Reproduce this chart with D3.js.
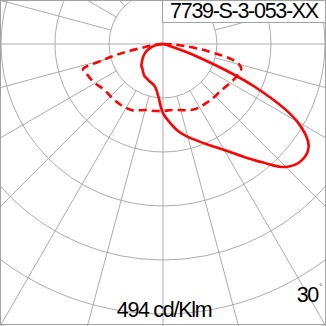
<!DOCTYPE html>
<html>
<head>
<meta charset="utf-8">
<script src="https://cdn.jsdelivr.net/npm/d3@7"></script>
<style>
  body { margin: 0; background: #fff; }
  text { font-family: "Liberation Sans", Arial, sans-serif; }
</style>
</head>
<body>
<div id="chart-wrapper"></div>
<script>
//////////////////////////////////////////////////
/////////////////// Constants ////////////////////
//////////////////////////////////////////////////

const width = 326;
const height = 326;
const center = {x: 163, y: 44};
const gridColour = "#a3a3a3"
const curveColour = "#ff0000"

// title / labels
const title = "7739-S-3-053-XX"
const unitLabel = "494 cd/Klm"
const angleLabel = "30"

// rings every 150 cd/klm, spokes every 15 deg
const ringValues = [150, 300, 450, 600, 750, 900, 1050]
const spokeAngles = d3.range(0, 360, 15)

// C0 - C180 plane (solid). gamma measured from nadir, + to the right
const gammaC180 = [-90, -85, -80, -75, -70, -65, -60, -55, -50, -45, -40, -35, -30, -25, -20, -15, -10, -5]
const valuesC180 = [0, 10, 21, 33, 43, 53, 61, 69, 76, 85, 89, 96, 103, 106, 110, 114, 122, 147]
const gammaC0 = [0, 5, 10, 15, 20, 25, 30, 35, 40, 45, 50, 55, 60, 65, 70, 75, 80, 85, 90]
const valuesC0 = [192, 219, 246, 267, 287, 311, 340, 380, 429, 483, 503, 494, 430, 281, 97, 14, 4, 1, 0]

// C90 - C270 plane (dashed)
const gammaC270 = [-90, -87.5, -85, -82.5, -80, -77.5, -75, -72.5, -70, -65, -60, -55, -50, -45, -40, -35, -30, -25, -20, -15, -10, -5]
const valuesC270 = [0, 8, 17, 33, 56, 117, 172, 233, 229, 224, 218, 210, 206, 206, 206, 206, 205, 203, 196, 190, 188, 187]
const gammaC90 = [0, 5, 10, 15, 20, 25, 30, 35, 40, 45, 50, 55, 60, 65, 70, 72.5, 75, 77.5, 80, 82.5, 85, 87.5, 90]
const valuesC90 = [186, 185, 186, 190, 196, 201, 203, 203, 204, 205, 206, 210, 216, 222, 226, 228, 219, 194, 144, 97, 56, 25, 0]

const solidData = d3.zip(gammaC180.concat(gammaC0), valuesC180.concat(valuesC0))
const dashedData = d3.zip(gammaC270.concat(gammaC90), valuesC270.concat(valuesC90))

/// SVG and main Group element ///
const svg = d3.select("#chart-wrapper")
  .append("svg")
    .attr("width", width)
    .attr("height", height)
const g = svg.append("g")
  .attr("transform", `translate(${center.x}, ${center.y})`)

/// Scales ///
const rScale = d3.scaleLinear()
  .domain([0, 150])
  .range([0, 54])
// gamma (deg from nadir) -> radial line angle (rad from 12 o'clock)
const toAngle = gamma => Math.PI - gamma * Math.PI / 180

/// Grid ///
g.selectAll(".ring")
  .data(ringValues)
  .join("circle")
    .attr("class", "ring")
    .attr("r", d => rScale(d))
    .attr("fill", "none")
    .attr("stroke", gridColour)
    .attr("stroke-width", 0.9)

g.selectAll(".spoke")
  .data(spokeAngles)
  .join("line")
    .attr("class", "spoke")
    .attr("x1", d => (d % 90 === 0 ? 0 : rScale(150)) * Math.sin(d * Math.PI / 180))
    .attr("y1", d => (d % 90 === 0 ? 0 : rScale(150)) * Math.cos(d * Math.PI / 180))
    .attr("x2", d => rScale(1050) * Math.sin(d * Math.PI / 180))
    .attr("y2", d => rScale(1050) * Math.cos(d * Math.PI / 180))
    .attr("stroke", gridColour)
    .attr("stroke-width", 0.9)

/// Curves ///
const line = d3.lineRadial()
  .angle(d => toAngle(d[0]))
  .radius(d => rScale(d[1]))
  .curve(d3.curveCatmullRom)

g.append("path")
  .datum(dashedData)
  .attr("d", line)
  .attr("fill", "none")
  .attr("stroke", curveColour)
  .attr("stroke-width", 2.6)
  .attr("stroke-dasharray", "8,5")

g.append("path")
  .datum(solidData)
  .attr("d", line)
  .attr("fill", "none")
  .attr("stroke", curveColour)
  .attr("stroke-width", 2.6)
  .attr("stroke-linejoin", "round")

/// Frame + title box ///
svg.append("rect")
  .attr("x", 0.5).attr("y", 0.5)
  .attr("width", width - 1).attr("height", height - 2)
  .attr("fill", "none")
  .attr("stroke", gridColour)

svg.append("rect")
  .attr("x", center.x - 0.5).attr("y", 0.5)
  .attr("width", width - center.x).attr("height", 22)
  .attr("fill", "#fff")
  .attr("stroke", gridColour)

svg.append("text")
  .attr("x", 244)
  .attr("y", 18)
  .attr("text-anchor", "middle")
  .attr("font-size", 21.5)
  .attr("letter-spacing", -1.3)
  .text(title)

svg.append("text")
  .attr("x", 164)
  .attr("y", 317)
  .attr("text-anchor", "middle")
  .attr("font-size", 21.5)
  .attr("letter-spacing", -1.3)
  .text(unitLabel)

const angleText = svg.append("text")
  .attr("x", 318)
  .attr("y", 302)
  .attr("text-anchor", "end")
  .attr("font-size", 21.5)
  .attr("letter-spacing", -1.3)
  .text(angleLabel)
svg.append("text")
  .attr("x", 319)
  .attr("y", 290)
  .attr("font-size", 9)
  .attr("fill", "#666")
  .text("°")
</script>
</body>
</html>
